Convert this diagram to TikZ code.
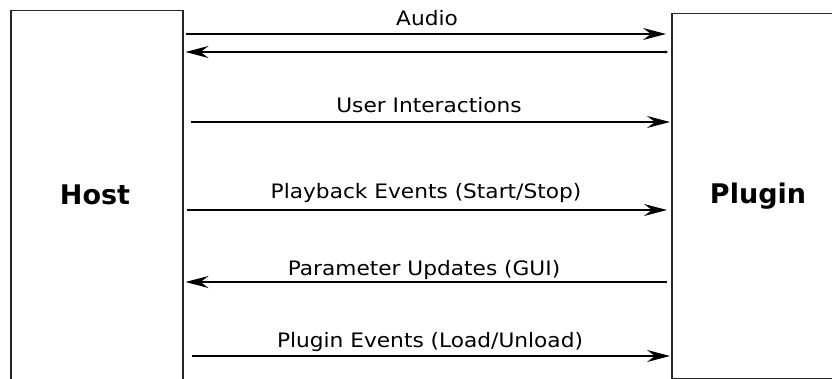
\documentclass[tikz,border=0pt]{standalone}
\usepackage{fontspec}
\setmainfont{DejaVu Sans}
\newfontfamily\msgfont[FakeStretch=1.09]{DejaVu Sans}
\usetikzlibrary{arrows.meta}
\begin{document}
\begin{tikzpicture}[x=1pt,y=-1pt,
  party/.style={draw=black!85, line width=1.5pt, rectangle, inner sep=0pt},
  partname/.style={anchor=base, font=\fontsize{27}{30}\selectfont\bfseries},
  msg/.style={line width=1.4pt, -{Stealth[length=23pt,width=12pt,inset=8pt]}},
  msgback/.style={line width=1.4pt, {Stealth[length=23pt,width=12pt,inset=8pt]}-},
  msglabel/.style={anchor=base, font=\msgfont\fontsize{19.9}{22}\selectfont}]
\useasboundingbox (0,0) rectangle (832,379);
\fill[white] (0,0) rectangle (832,379);

% the two parties
\node[party, anchor=north west, minimum width=172pt, minimum height=372pt] (host) at (10,10) {};
\node[party, anchor=north west, minimum width=174pt, minimum height=365pt] (plugin) at (671,13) {};
\node[partname] (hostname) at (95,205) {Host};
\node[partname] (pluginname) at (758,204) {Plugin};

% messages between host and plugin
\draw[msg, shorten <=2pt, shorten >=5pt] (host.east |- 0,34) -- (plugin.west |- 0,34);
\draw[line width=1.4pt, {Stealth[length=3pt,width=3pt]}-{Stealth[length=23pt,width=12pt,inset=8pt]},
      shorten <=3pt, shorten >=2pt] (plugin.west |- 0,52) -- (host.east |- 0,52);
\draw[msg, shorten <=7pt, shorten >=1pt] (host.east |- 0,122) -- (plugin.west |- 0,122);
\draw[msg, shorten <=3pt, shorten >=4pt] (host.east |- 0,210) -- (plugin.west |- 0,210);
\draw[msgback, shorten <=2pt, shorten >=4pt] (host.east |- 0,282) -- (plugin.west |- 0,282);
\draw[msg, shorten <=8pt, shorten >=1pt] (host.east |- 0,356) -- (plugin.west |- 0,356);

% message labels
\node[msglabel] (audio) at (427,26) {Audio};
\node[msglabel] (user) at (429,113) {User Interactions};
\node[msglabel] (playback) at (426,199) {Playback Events (Start/Stop)};
\node[msglabel] (params) at (424,276) {Parameter Updates (GUI)};
\node[msglabel] (events) at (430,347) {Plugin Events (Load/Unload)};
\end{tikzpicture}
\end{document}
